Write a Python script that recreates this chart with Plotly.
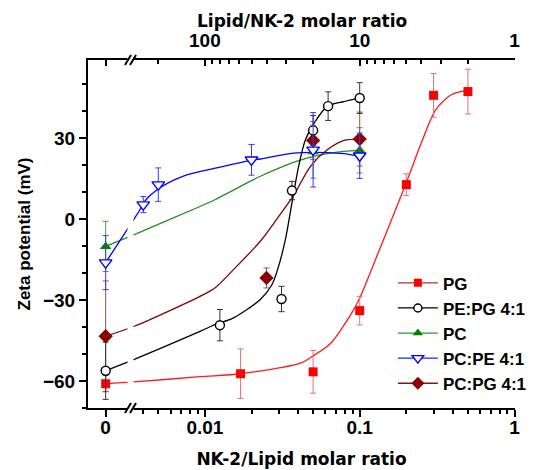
import math
import plotly.graph_objects as go

# ---------------- data ----------------
# NK-2/Lipid molar ratio (0 = peptide-free point, plotted left of the axis break)
x_PG = [0, 0.017, 0.05, 0.1, 0.2, 0.3, 0.5]
y_PG = [-61.0, -57.3, -56.6, -33.9, 12.8, 45.9, 47.3]
e_PG = [3.0, 9.2, 7.9, 5.3, 4.0, 8.1, 8.3]

x_PEPG = [0, 0.0125, 0.03125, 0.0365, 0.05, 0.0625, 0.1]
y_PEPG = [-56.2, -39.3, -29.6, 10.6, 32.9, 41.9, 44.9]
e_PEPG = [10.6, 5.8, 4.7, 3.4, 5.5, 5.3, 5.7]

x_PC = [0, 0.05, 0.1]
y_PC = [-10.1, 25.0, 25.5]
e_PC = [9.3, 9.8, 8.4]

x_PCPE = [0, 0.004, 0.005, 0.02, 0.05, 0.1]
y_PCPE = [-16.1, 5.4, 12.8, 22.0, 25.7, 23.5]
e_PCPE = [10.0, 3.0, 6.2, 5.7, 13.8, 8.4]

x_PCPG = [0, 0.025, 0.05, 0.1]
y_PCPG = [-43.4, -21.8, 29.2, 29.7]
e_PCPG = [20.5, 3.7, 7.0, 10.0]

# fitted curves
cx_PG = [0, 0.0035, 0.0093, 0.017, 0.0414, 0.049, 0.065, 0.0875, 0.099, 0.137, 0.2, 0.25, 0.31, 0.39, 0.5]
cy_PG = [-61.0, -60.3, -58.4, -57.3, -53.4, -51.0, -46.0, -35.4, -29.8, -10.0, 13.5, 28.3, 40.6, 46.1, 47.7]

cx_PEPG = [0, 0.0035, 0.0093, 0.0116, 0.0153, 0.0228, 0.0271, 0.0299, 0.0331, 0.0365, 0.0403, 0.0446, 0.0493, 0.0617, 0.0791, 0.1]
cy_PEPG = [-56.2, -52.0, -41.6, -39.1, -36.6, -29.8, -24.3, -17.5, -7.6, 6.0, 19.6, 29.4, 34.4, 41.8, 43.6, 44.9]

cx_PC = [0, 0.0035, 0.0093, 0.0116, 0.0196, 0.0228, 0.039, 0.0505, 0.0791, 0.1]
cy_PC = [-10.1, -5.7, 4.7, 7.2, 14.0, 15.9, 21.4, 23.3, 25.1, 25.5]

cx_PCPE = [0, 0.0035, 0.0038, 0.004, 0.0049, 0.0072, 0.0119, 0.0206, 0.0228, 0.0374, 0.0617, 0.0791, 0.1]
cy_PCPE = [-16.1, 0.2, 3.5, 6.0, 10.9, 15.9, 19.0, 22.0, 22.3, 24.5, 24.7, 24.3, 23.3]

cx_PCPG = [0, 0.0035, 0.0093, 0.0116, 0.0153, 0.0228, 0.0292, 0.0374, 0.0481, 0.0617, 0.0791, 0.1]
cy_PCPG = [-43.4, -39.7, -28.6, -25.5, -18.7, -8.2, 0.1, 8.8, 19.6, 25.7, 29.2, 29.7]

x_ticks = [0, 0.01, 0.1, 1]
x_ticklabels = ["0", "0.01", "0.1", "1"]
x_minor = [0.004, 0.005, 0.006, 0.007, 0.008, 0.009,
           0.02, 0.03, 0.04, 0.05, 0.06, 0.07, 0.08, 0.09,
           0.2, 0.3, 0.4, 0.5, 0.6, 0.7, 0.8, 0.9]
top_ticks = [100, 10, 1]
top_ticklabels = ["100", "10", "1"]
top_minor = [200, 90, 80, 70, 60, 50, 40, 30, 20, 9, 8, 7, 6, 5, 4, 3, 2]

# ---------------- broken-axis mapping ----------------
LOG_LEFT = -2.755
LOG_RIGHT = 0.003
ZERO_POS = 10 ** -2.641   # where "0" sits, left of the break


def pos(xs):
    return [ZERO_POS if v == 0 else v for v in xs]


FONT = "Liberation Sans, Arial, Helvetica, sans-serif"
WIDE = "DejaVu Sans, Liberation Sans, sans-serif"

series = [
    # name, x, y, err, curve x, curve y, line color, err color, marker
    ("PG", x_PG, y_PG, e_PG, cx_PG, cy_PG, "#ff1a1a", "#e0707c",
     dict(symbol="square", size=9, color="#ff0000", line=dict(width=0))),
    ("PC", x_PC, y_PC, e_PC, cx_PC, cy_PC, "#1f8f1f", "#4f9a4f",
     dict(symbol="triangle-up", size=10, color="#008000", line=dict(width=0))),
    ("PC:PG 4:1", x_PCPG, y_PCPG, e_PCPG, cx_PCPG, cy_PCPG, "#800000", "#9a5050",
     dict(symbol="diamond", size=11, color="#8b0000", line=dict(width=0))),
    ("PE:PG 4:1", x_PEPG, y_PEPG, e_PEPG, cx_PEPG, cy_PEPG, "#000000", "#333333",
     dict(symbol="circle", size=9, color="white", line=dict(width=1.4, color="black"))),
    ("PC:PE 4:1", x_PCPE, y_PCPE, e_PCPE, cx_PCPE, cy_PCPE, "#0000ff", "#3a3aff",
     dict(symbol="triangle-down", size=11, color="white", line=dict(width=1.4, color="#0000ff"))),
]

fig = go.Figure()

for name, xs, ys, es, cxs, cys, lc, ec, mk in series:
    fig.add_trace(go.Scatter(
        x=pos(cxs), y=cys, mode="lines",
        line=dict(color=lc, width=1.3, shape="spline", smoothing=0.8),
        showlegend=False, hoverinfo="skip"))

for name, xs, ys, es, cxs, cys, lc, ec, mk in series:
    fig.add_trace(go.Scatter(
        x=pos(xs), y=ys, mode="markers", marker=mk,
        error_y=dict(type="data", array=es, color=ec, thickness=1, width=3),
        showlegend=False, cliponaxis=False))

# legend entries (line + marker)
legend_order = ["PG", "PE:PG 4:1", "PC", "PC:PE 4:1", "PC:PG 4:1"]
legend_line = {"PG": "#b83030", "PE:PG 4:1": "#000000", "PC": "#2a9a2a",
               "PC:PE 4:1": "#2020ff", "PC:PG 4:1": "#7a1a1a"}
by_name = {s[0]: s for s in series}
for name in legend_order:
    s = by_name[name]
    mk = dict(s[8])
    mk["size"] = mk["size"] - 1
    fig.add_trace(go.Scatter(
        x=[None], y=[None], mode="lines+markers", name=name,
        line=dict(color=legend_line[name], width=1.3), marker=mk))

# dummy trace to activate the top axis
fig.add_trace(go.Scatter(x=[10], y=[None], xaxis="x2", showlegend=False,
                         hoverinfo="skip", mode="markers"))

tickfont = dict(family=FONT, size=19, color="black", weight="bold")
titlefont = dict(family=WIDE, size=17, color="black", weight="bold")
ytitlefont = dict(family=FONT, size=17, color="black", weight="bold")

W = 427.0
H = 348.0

fig.update_layout(
    width=533, height=470,
    margin=dict(l=88, r=18, t=60, b=62, autoexpand=False),
    paper_bgcolor="white", plot_bgcolor="white",
    xaxis=dict(
        type="log", range=[LOG_LEFT, LOG_RIGHT], automargin=False,
        tickmode="array", tickvals=pos(x_ticks), ticktext=x_ticklabels,
        ticks="outside", ticklen=7, tickwidth=2, tickcolor="black",
        ticklabelstandoff=-6,
        minor=dict(tickmode="array", tickvals=x_minor, ticks="outside",
                   ticklen=4, tickwidth=1.5, tickcolor="black"),
        showline=True, linewidth=2, linecolor="black", showgrid=False,
        zeroline=False, tickfont=tickfont,
        title=dict(text="NK-2/Lipid molar ratio", font=titlefont, standoff=16),
    ),
    xaxis2=dict(
        type="log", overlaying="x", side="top", anchor="y", automargin=False,
        range=[-LOG_LEFT, -LOG_RIGHT],
        tickmode="array", tickvals=[1 / ZERO_POS] + top_ticks,
        ticktext=[""] + top_ticklabels,
        ticks="inside", ticklen=6, tickwidth=2, tickcolor="black",
        ticklabelstandoff=3,
        minor=dict(tickmode="array", tickvals=top_minor, ticks="inside",
                   ticklen=4, tickwidth=1.5, tickcolor="black"),
        showline=True, linewidth=2, linecolor="black", showgrid=False,
        zeroline=False, tickfont=tickfont,
    ),
    yaxis=dict(
        range=[-70, 59], tick0=0, dtick=30, automargin=False,
        ticks="outside", ticklen=7, tickwidth=2, tickcolor="black",
        minor=dict(dtick=10, tick0=0, ticks="outside", ticklen=4,
                   tickwidth=1.5, tickcolor="black"),
        showline=True, linewidth=2, linecolor="black", showgrid=False,
        zeroline=False, tickfont=tickfont,
        title=dict(text="Zeta potential (mV)", font=ytitlefont, standoff=8),
    ),
    legend=dict(x=0.714, y=0.41, xanchor="left", yanchor="top",
                bgcolor="rgba(0,0,0,0)", borderwidth=0,
                font=dict(family=FONT, size=17, color="black", weight="bold"),
                itemwidth=40, tracegroupgap=0),
    showlegend=True,
    annotations=[dict(text="Lipid/NK-2 molar ratio", xref="paper", yref="paper",
                      x=0.5, y=(408.5 - 21) / H, xanchor="center", yanchor="middle",
                      showarrow=False, font=titlefont)],
)

# axis break marks


def px(p):
    return (p - 88.0) / W


def py(dpx):
    return dpx / H


shapes = [
    dict(type="rect", xref="paper", yref="paper",
         x0=px(127.5), x1=px(133.5), y0=-py(4), y1=1 + py(4),
         fillcolor="white", line=dict(width=0), layer="above"),
]
for yb in (0.0, 1.0):
    for off in (0.0, 5.0):
        shapes.append(dict(type="line", xref="paper", yref="paper",
                           x0=px(125 + off), x1=px(131 + off),
                           y0=yb - py(5), y1=yb + py(5),
                           line=dict(color="black", width=2), layer="above"))
fig.update_layout(shapes=shapes)

fig.write_html("out.html", config={"displayModeBar": False},
               post_script="document.body.style.margin='0';document.body.style.overflow='hidden';")
